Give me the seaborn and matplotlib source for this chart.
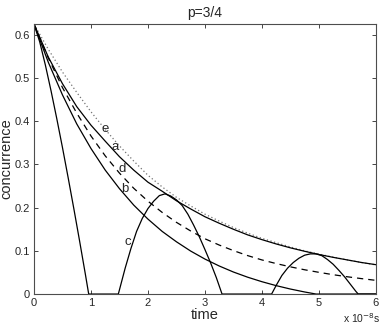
import matplotlib
matplotlib.use("Agg")
import matplotlib.pyplot as plt
import seaborn as sns

# Concurrence vs time, p=3/4
t = [0.0, 0.25, 0.5, 0.75, 1.0, 1.25, 1.5, 1.75, 2.0, 2.25, 2.5, 2.75, 3.0,
     3.25, 3.5, 3.75, 4.0, 4.25, 4.5, 4.75, 5.0, 5.25, 5.5, 5.75, 6.0]
curve_a = [0.625, 0.549, 0.487, 0.434, 0.391, 0.354, 0.318, 0.287, 0.259, 0.238,
           0.216, 0.197, 0.179, 0.164, 0.150, 0.137, 0.126, 0.116, 0.107, 0.099,
           0.0916, 0.085, 0.079, 0.073, 0.068]
curve_e = [0.625, 0.567, 0.514, 0.467, 0.422, 0.381, 0.343, 0.308, 0.275, 0.248,
           0.224, 0.204, 0.185, 0.169, 0.154, 0.141, 0.129, 0.119, 0.109, 0.100,
           0.0925, 0.0855, 0.079, 0.073, 0.0675]
curve_d = [0.625, 0.547, 0.478, 0.419, 0.366, 0.320, 0.280, 0.245, 0.215, 0.189,
           0.166, 0.146, 0.128, 0.1135, 0.1006, 0.089, 0.079, 0.0706, 0.063, 0.0562,
           0.0503, 0.0448, 0.040, 0.0357, 0.0317]

t_b = [0.0, 0.25, 0.5, 0.75, 1.0, 1.25, 1.5, 1.75, 2.0, 2.25, 2.5, 2.75, 3.0,
       3.25, 3.5, 3.75, 4.0, 4.25, 4.5, 4.75, 4.95, 5.5, 6.0]
curve_b = [0.625, 0.537, 0.461, 0.394, 0.337, 0.287, 0.244, 0.206, 0.1735, 0.145,
           0.121, 0.0995, 0.081, 0.065, 0.051, 0.039, 0.0286, 0.0195, 0.0116, 0.0048,
           0.0, 0.0, 0.0]

t_c = [0.0, 0.1, 0.2, 0.3, 0.4, 0.5, 0.6, 0.7, 0.8, 0.9, 0.96, 1.48,
       1.55, 1.6, 1.7, 1.8, 1.9, 2.0, 2.1, 2.2, 2.3, 2.4, 2.5, 2.6, 2.7, 2.8,
       2.9, 3.0, 3.1, 3.2, 3.3, 4.17,
       4.25, 4.35, 4.45, 4.55, 4.65, 4.75, 4.85, 4.95, 5.05, 5.15, 5.25, 5.35,
       5.45, 5.55, 5.65, 5.69, 6.0]
curve_c = [0.625, 0.584, 0.530, 0.470, 0.406, 0.339, 0.269, 0.197, 0.123, 0.047, 0.0, 0.0,
           0.035, 0.06, 0.105, 0.145, 0.175, 0.198, 0.215, 0.228, 0.232, 0.227, 0.218,
           0.205, 0.185, 0.16, 0.133, 0.103, 0.072, 0.038, 0.0, 0.0,
           0.02, 0.043, 0.06, 0.073, 0.083, 0.09, 0.093, 0.093, 0.089, 0.08, 0.069,
           0.055, 0.04, 0.023, 0.006, 0.0, 0.0]

labels = ["e", "a", "d", "b", "c"]
label_x = [1.25, 1.42, 1.54, 1.60, 1.64]
label_y = [0.383, 0.340, 0.290, 0.244, 0.120]

sns.set_style("white")
plt.rcParams["font.family"] = ["Liberation Sans", "DejaVu Sans"]
plt.rcParams["xtick.direction"] = "in"
plt.rcParams["ytick.direction"] = "in"

fig = plt.figure(figsize=(3.82, 3.26), dpi=100)
ax = fig.add_axes([0.089, 0.098, 0.895, 0.828])

lw = 0.9
sns.lineplot(x=t, y=curve_e, ax=ax, color="0.45", lw=0.9, linestyle=(0, (1, 2)), sort=False)
sns.lineplot(x=t, y=curve_a, ax=ax, color="k", lw=lw, sort=False)
sns.lineplot(x=t, y=curve_d, ax=ax, color="k", lw=lw, linestyle=(0, (5, 4)), sort=False)
sns.lineplot(x=t_b, y=curve_b, ax=ax, color="k", lw=lw, sort=False)
sns.lineplot(x=t_c, y=curve_c, ax=ax, color="k", lw=lw, sort=False)

for lab, lx, ly in zip(labels, label_x, label_y):
    ax.text(lx, ly, lab, fontsize=9.5, ha="center", va="center")

ax.set_xlim(0, 6)
ax.set_ylim(0, 0.625)
ax.set_xticks([0, 1, 2, 3, 4, 5, 6])
ax.set_yticks([0, 0.1, 0.2, 0.3, 0.4, 0.5, 0.6])
ax.set_yticklabels(["0", "0.1", "0.2", "0.3", "0.4", "0.5", "0.6"])
ax.tick_params(labelsize=8, length=3, width=0.6, top=True, right=True,
               bottom=True, left=True, pad=3)
for s in ax.spines.values():
    s.set_visible(True)
    s.set_color("0.3")
    s.set_linewidth(0.8)

ax.set_title("p=3/4", fontsize=10, pad=5)
ax.set_xlabel("time", fontsize=10.5, labelpad=0)
ax.set_ylabel("concurrence", fontsize=10.5, labelpad=1)
fig.text(0.995, 0.003, "x 10$^{-8}$s", fontsize=7.5, ha="right", va="bottom")

fig.savefig("out.png", dpi=100)
